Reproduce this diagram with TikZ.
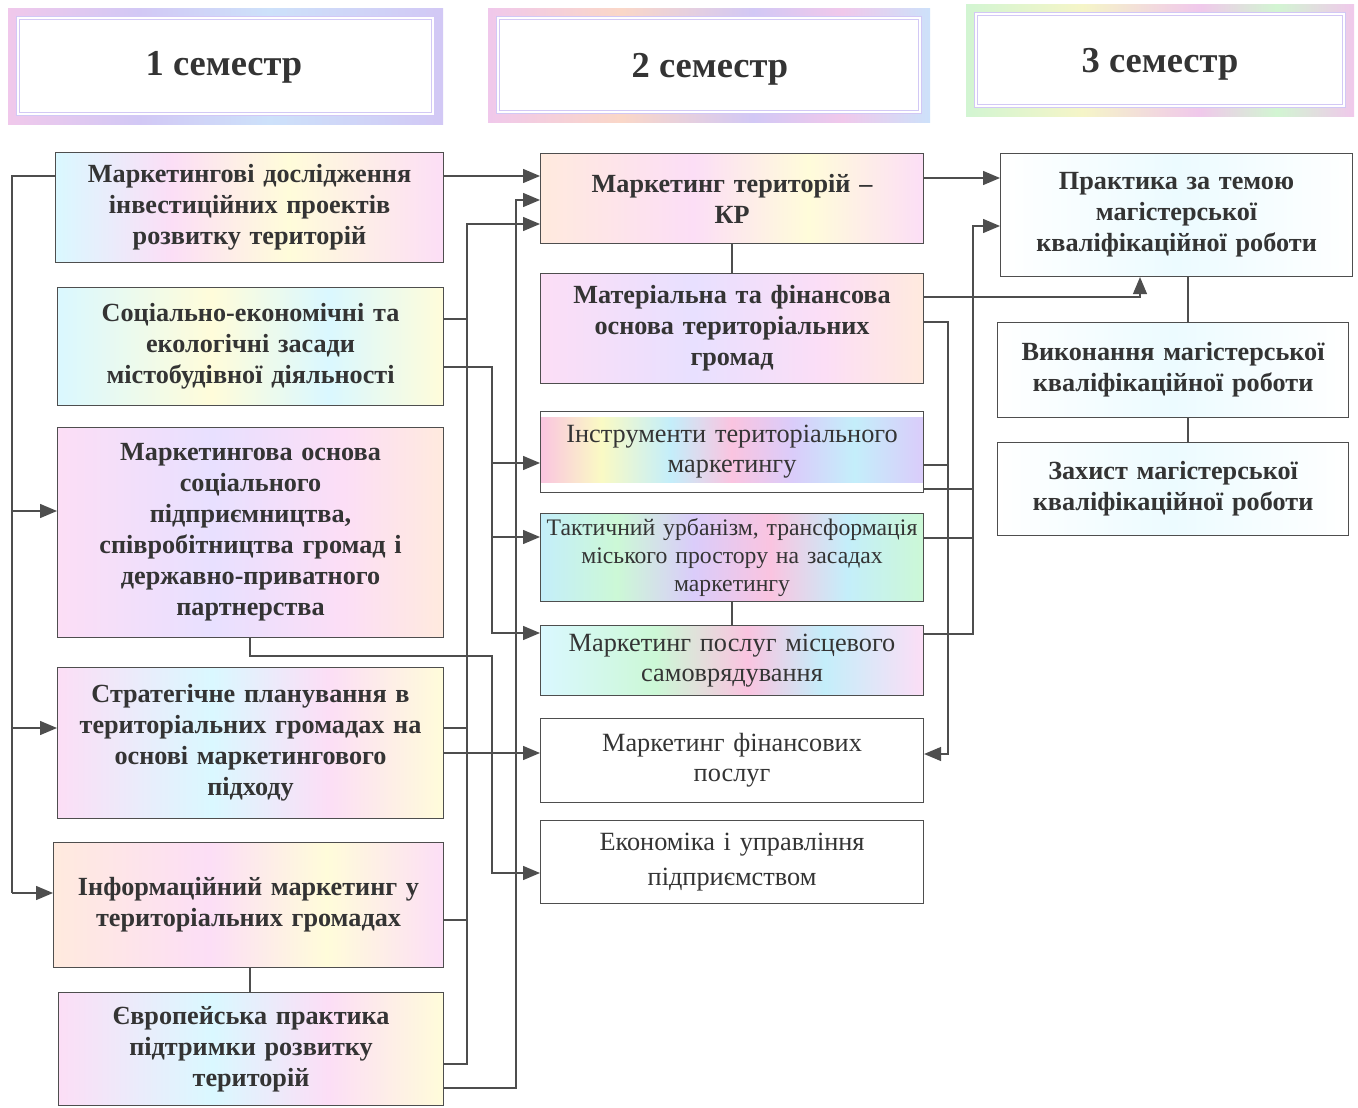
\documentclass[tikz,border=0pt]{standalone}
\usepackage{fontspec}
\setmainfont{Liberation Serif}
\usetikzlibrary{arrows.meta}
\definecolor{ln}{RGB}{78,78,78}
\definecolor{tx}{RGB}{52,52,52}
\definecolor{lpk}{RGB}{252,222,246}
\definecolor{lye}{RGB}{255,252,218}
\definecolor{lcy}{RGB}{218,248,255}
\definecolor{llv}{RGB}{232,224,255}
\definecolor{lgr}{RGB}{226,255,228}
\definecolor{lpe}{RGB}{255,234,222}
\definecolor{vpk}{RGB}{250,196,224}
\definecolor{vye}{RGB}{250,250,196}
\definecolor{vcy}{RGB}{196,238,250}
\definecolor{vlv}{RGB}{218,204,250}
\definecolor{vgr}{RGB}{204,248,214}
\definecolor{hlv}{RGB}{210,200,245}
\definecolor{hpk}{RGB}{240,200,235}
\definecolor{hcy}{RGB}{205,225,250}
\definecolor{hye}{RGB}{245,245,200}
\definecolor{hgr}{RGB}{210,245,210}
\definecolor{hor}{RGB}{250,215,200}
\definecolor{lcyh}{RGB}{236,251,255}
\pgfdeclarehorizontalshading{sA}{100bp}{color(0bp)=(lcy); color(25bp)=(lcy); color(40bp)=(lpk); color(55bp)=(lye); color(75bp)=(lpk); color(100bp)=(lpk)}
\pgfdeclarehorizontalshading{sB}{100bp}{color(0bp)=(lcy); color(25bp)=(lcy); color(45bp)=(lye); color(60bp)=(lcy); color(75bp)=(lye); color(100bp)=(lye)}
\pgfdeclarehorizontalshading{sC}{100bp}{color(0bp)=(lpk); color(25bp)=(lpk); color(45bp)=(llv); color(62bp)=(lpk); color(75bp)=(lpe); color(100bp)=(lpe)}
\pgfdeclarehorizontalshading{sD}{100bp}{color(0bp)=(lpe); color(25bp)=(lpe); color(45bp)=(lpk); color(60bp)=(lye); color(75bp)=(lpk); color(100bp)=(lpk)}
\pgfdeclarehorizontalshading{sE}{100bp}{color(0bp)=(lpk); color(25bp)=(lpk); color(45bp)=(lcy); color(60bp)=(lpk); color(75bp)=(lye); color(100bp)=(lye)}
\pgfdeclarehorizontalshading{sV}{100bp}{color(0bp)=(vpk); color(25bp)=(vpk); color(33bp)=(vye); color(42bp)=(vcy); color(50bp)=(vpk); color(58bp)=(vlv); color(66bp)=(vcy); color(75bp)=(vlv); color(100bp)=(vlv)}
\pgfdeclarehorizontalshading{sW}{100bp}{color(0bp)=(vcy); color(25bp)=(vcy); color(35bp)=(vgr); color(45bp)=(vlv); color(55bp)=(vpk); color(65bp)=(vcy); color(75bp)=(vgr); color(100bp)=(vgr)}
\pgfdeclarehorizontalshading{sX}{100bp}{color(0bp)=(lcy); color(25bp)=(lcy); color(40bp)=(vgr); color(52bp)=(vpk); color(62bp)=(vcy); color(75bp)=(lpk); color(100bp)=(lpk)}
\pgfdeclarehorizontalshading{sL}{100bp}{color(0bp)=(white); color(25bp)=(white); color(50bp)=(lcyh); color(75bp)=(white); color(100bp)=(white)}
\pgfdeclarehorizontalshading{hA}{100bp}{color(0bp)=(hpk); color(25bp)=(hpk); color(40bp)=(hlv); color(55bp)=(hcy); color(75bp)=(hlv); color(100bp)=(hlv)}
\pgfdeclarehorizontalshading{hB}{100bp}{color(0bp)=(hpk); color(25bp)=(hpk); color(40bp)=(hor); color(55bp)=(hlv); color(65bp)=(hpk); color(75bp)=(hcy); color(100bp)=(hcy)}
\pgfdeclarehorizontalshading{hC}{100bp}{color(0bp)=(hgr); color(25bp)=(hgr); color(40bp)=(hye); color(55bp)=(hpk); color(65bp)=(hgr); color(75bp)=(hpk); color(100bp)=(hpk)}
\tikzset{
  box/.style={draw=ln, line width=1.1pt, inner sep=0pt, align=center, text=tx, anchor=north west},
  bf/.style={font=\fontsize{26.2}{31}\selectfont\bfseries},
  rg/.style={font=\fontsize{26.3}{30}\selectfont},
  conn/.style={draw=ln, line width=1.4pt},
  arr/.style={conn, -{Triangle[length=17pt,width=14pt]}},
  hout/.style={draw=none, inner sep=0pt, anchor=north west},
  hin/.style={draw=hlv, line width=0.8pt, double=white, double distance=2.5pt, fill=white, inner sep=0pt, text=tx},
  htext/.style={text=tx, inner sep=0pt, font=\fontsize{36.5}{40}\selectfont\bfseries},
}
\newcommand\mkbox[7]{%
  \pgfmathsetmacro\bw{#4-#2}\pgfmathsetmacro\bh{#5-#3}\pgfmathsetmacro\tw{#4-#2-10}%
  \node[box,#6,minimum width=\bw pt,minimum height=\bh pt,text width=\tw pt] (#1) at (#2,#3) {#7};}
\begin{document}
\begin{tikzpicture}[x=1pt,y=-1pt]
\useasboundingbox[fill=white] (0,0) rectangle (1358,1108);
% headers
\node[hout, shading=hA, minimum width=435pt, minimum height=116pt] (H1o) at (8,8) {};
\node[hin, minimum width=415pt, minimum height=96pt] (H1i) at (H1o.center) {};
\node[htext] (H1) at (224,67) {1 семестр};
\node[hout, shading=hB, minimum width=442pt, minimum height=114pt] (H2o) at (488,8) {};
\node[hin, minimum width=422pt, minimum height=94pt] (H2i) at (H2o.center) {};
\node[htext] (H2) at (710,69) {2 семестр};
\node[hout, shading=hC, minimum width=388pt, minimum height=112pt] (H3o) at (966,4) {};
\node[hin, minimum width=368pt, minimum height=92pt] (H3i) at (H3o.center) {};
\node[htext] (H3) at (1160,64) {3 семестр};
% column 1
\mkbox{A1}{55}{152}{443}{262}{bf,shading=sA}{Маркетингові дослідження\\інвестиційних проектів\\розвитку територій}
\mkbox{A2}{57}{287}{443}{405}{bf,shading=sB}{Соціально-економічні та\\екологічні засади\\містобудівної діяльності}
\mkbox{A3}{57}{427}{443}{637}{bf,shading=sC}{Маркетингова основа\\соціального\\підприємництва,\\співробітництва громад і\\державно-приватного\\партнерства}
\mkbox{A4}{57}{667}{443}{818}{bf,shading=sE}{Стратегічне планування в\\територіальних громадах на\\основі маркетингового\\підходу}
\mkbox{A5}{53}{842}{443}{967}{bf,shading=sD}{Інформаційний маркетинг у\\територіальних громадах}
\mkbox{A6}{58}{992}{443}{1105}{bf,shading=sE}{Європейська практика\\підтримки розвитку\\територій}
% column 2
\mkbox{B1}{540}{153}{923}{243}{bf,shading=sD}{Маркетинг територій –\\КР}
\mkbox{B2}{540}{273}{923}{383}{bf,shading=sC}{Матеріальна та фінансова\\основа територіальних\\громад}
\shade[shading=sV] (540,417) rectangle (923,482);
\mkbox{B3}{540}{417}{923}{498}{rg,yshift=6pt}{Інструменти територіального\\маркетингу}
\mkbox{B4}{540}{513}{923}{601}{font=\fontsize{23.7}{28}\selectfont,shading=sW}{Тактичний урбанізм, трансформація\\міського простору на засадах\\маркетингу}
\mkbox{B5}{540}{625}{923}{695}{rg,shading=sX}{Маркетинг послуг місцевого\\самоврядування}
\mkbox{B6}{540}{718}{923}{802}{rg,fill=white}{Маркетинг фінансових\\послуг}
\mkbox{B7}{540}{820}{923}{903}{font=\fontsize{26.3}{35}\selectfont,fill=white}{Економіка і управління\\підприємством}
% column 3
\mkbox{C1}{1000}{153}{1352}{276}{bf,shading=sL}{Практика за темою\\магістерської\\кваліфікаційної роботи}
\mkbox{C2}{997}{322}{1348}{417}{bf,shading=sL}{Виконання магістерської\\кваліфікаційної роботи}
\mkbox{C3}{997}{442}{1348}{535}{bf,shading=sL}{Захист магістерської\\кваліфікаційної роботи}
% plain links between boxes
\draw[conn] (A5.south -| 250,0) -- (A6.north -| 250,0);
\draw[conn] (B1.south) -- (B2.north);
\draw[conn] (B4.south) -- (B5.north);
\draw[conn] (C1.south -| 1188,0) -- (C2.north -| 1188,0);
\draw[conn] (C2.south -| 1188,0) -- (C3.north -| 1188,0);
% column 1 -> column 2
\draw[arr] (A1.east |- 0,176) -- (B1.west |- 0,176);
\draw[conn] (A1.west |- 0,176) -- (12,176) -- (12,893);
\draw[arr] (12,511) -- (A3.west |- 0,511);
\draw[arr] (12,728) -- (A4.west |- 0,728);
\draw[arr] (12,893) -- (A5.west |- 0,893);
\draw[arr] (A6.east |- 0,1064) -- (467,1064) -- (467,224) -- (B1.west |- 0,224);
\draw[conn] (A2.east |- 0,319) -- (467,319);
\draw[conn] (A4.east |- 0,728) -- (467,728);
\draw[conn] (A5.east |- 0,920) -- (467,920);
\draw[arr] (A6.east |- 0,1088) -- (516,1088) -- (516,200) -- (B1.west |- 0,200);
\draw[arr] (A2.east |- 0,367) -- (492,367) -- (492,633) -- (B5.west |- 0,633);
\draw[arr] (492,463) -- (B3.west |- 0,463);
\draw[arr] (492,537) -- (B4.west |- 0,537);
\draw[arr] (A3.south -| 250,0) -- (250,656) -- (492,656) -- (492,873) -- (B7.west |- 0,873);
\draw[arr] (A4.east |- 0,753) -- (B6.west |- 0,753);
% column 2 -> column 3
\draw[arr] (B1.east |- 0,178) -- (C1.west |- 0,178);
\draw[arr] (B2.east |- 0,297) -- (1140,297) -- (C1.south -| 1140,0);
\draw[arr] (B2.east |- 0,322) -- (948,322) -- (948,754) -- (B6.east |- 0,754);
\draw[conn] (B3.east |- 0,465) -- (948,465);
\draw[arr] (B5.east |- 0,634) -- (973,634) -- (973,226) -- (C1.west |- 0,226);
\draw[conn] (B3.east |- 0,489) -- (973,489);
\draw[conn] (B4.east |- 0,538) -- (973,538);
\end{tikzpicture}
\end{document}
